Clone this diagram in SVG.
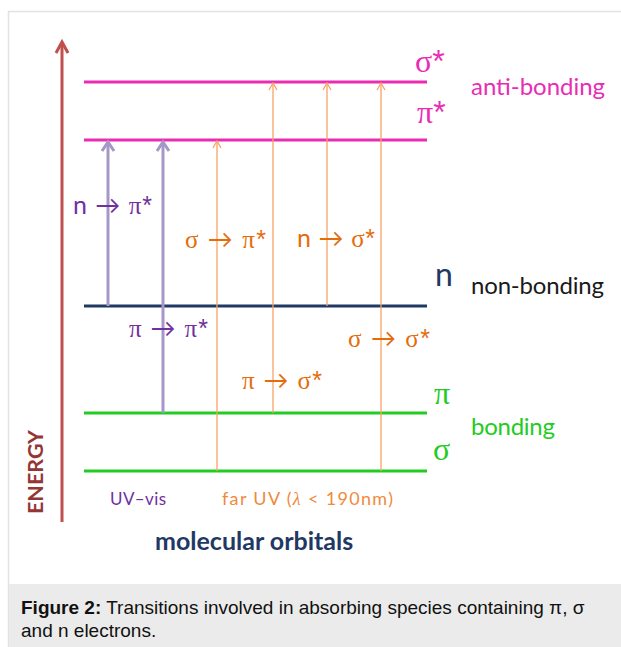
<svg xmlns="http://www.w3.org/2000/svg" width="621" height="647" viewBox="0 0 621 647">
<defs>
<style>
.lvl{stroke-width:3;fill:none}
.pa{stroke:#a597c8;stroke-width:3;fill:none}
.oa{stroke:#f7a366;stroke-width:1.3;fill:none}
.t{font-family:Lato,"Open Sans",sans-serif}
.g{font-family:"Liberation Serif","DejaVu Serif",serif}
.s{font-family:"Liberation Sans",Arial,sans-serif}
.big{font-size:32px}
.lab{font-size:24px}
.tr{font-size:25px}
.pur{fill:#7030a0}
.org{fill:#e46c0a}
</style>
</defs>
<rect x="0" y="0" width="621" height="647" fill="#ffffff"/>
<rect x="8.5" y="11.5" width="640" height="660" fill="none" stroke="#e2e2e2" stroke-width="1.5"/>
<rect x="9" y="584" width="612" height="63" fill="#ebebeb"/>

<g id="energy-axis">
<line x1="62" y1="522" x2="62" y2="44" stroke="#c0504d" stroke-width="3"/>
<polyline points="56,53 62,42 68,53" fill="none" stroke="#c0504d" stroke-width="3" stroke-linejoin="miter"/>
<text class="t" transform="translate(43,472) rotate(-90)" text-anchor="middle" font-size="21.5" font-weight="bold" fill="#943634">ENERGY</text>
</g>

<g id="level-sigma-star">
<line class="lvl" x1="84" y1="82" x2="427" y2="82" stroke="#ea2cb4"/>
<text class="g big" x="415" y="72" fill="#ea2cb4">σ<tspan class="s">*</tspan></text>
</g>
<g id="level-pi-star">
<line class="lvl" x1="84" y1="140" x2="427" y2="140" stroke="#ea2cb4"/>
<text class="g big" x="417" y="123" fill="#ea2cb4">π<tspan class="s">*</tspan></text>
</g>
<text class="t lab" x="471" y="95" fill="#ea2cb4" textLength="134">anti-bonding</text>

<g id="level-n">
<line class="lvl" x1="84" y1="306" x2="427" y2="306" stroke="#1f3864"/>
<text class="t big" x="435" y="286" fill="#1f3864">n</text>
<text class="t lab" x="471" y="294" fill="#1a1a1a" textLength="133">non-bonding</text>
</g>

<g id="level-pi">
<line class="lvl" x1="84" y1="413" x2="427" y2="413" stroke="#22cc22"/>
<text class="g big" x="434" y="404" fill="#22cc22">π</text>
</g>
<g id="level-sigma">
<line class="lvl" x1="84" y1="471" x2="427" y2="471" stroke="#22cc22"/>
<text class="g big" x="433" y="460" fill="#22cc22">σ</text>
</g>
<text class="t lab" x="471" y="435" fill="#22cc22" textLength="84">bonding</text>

<g id="connectors">
<line class="pa" x1="108" y1="306" x2="108" y2="142"/>
<polyline class="pa" points="102,151 108,142 114,151"/>
<line class="pa" x1="163" y1="413" x2="163" y2="142"/>
<polyline class="pa" points="157,151 163,142 169,151"/>
<line class="oa" x1="217" y1="471" x2="217" y2="141"/>
<polyline class="oa" points="213,148 217,141 221,148"/>
<line class="oa" x1="273" y1="413" x2="273" y2="83"/>
<polyline class="oa" points="269,90 273,83 277,90"/>
<line class="oa" x1="327" y1="306" x2="327" y2="83"/>
<polyline class="oa" points="323,90 327,83 331,90"/>
<line class="oa" x1="381" y1="471" x2="381" y2="83"/>
<polyline class="oa" points="377,90 381,83 385,90"/>
</g>

<g id="transition-labels">
<text class="t tr pur" x="73" y="214" textLength="79">n → <tspan class="g">π</tspan><tspan class="s">*</tspan></text>
<text class="t tr pur" x="129" y="337" textLength="79"><tspan class="g">π</tspan> → <tspan class="g">π</tspan><tspan class="s">*</tspan></text>
<text class="t tr org" x="185" y="248" textLength="81"><tspan class="g">σ</tspan> → <tspan class="g">π</tspan><tspan class="s">*</tspan></text>
<text class="t tr org" x="297" y="247" textLength="78">n → <tspan class="g">σ</tspan><tspan class="s">*</tspan></text>
<text class="t tr org" x="348" y="347" textLength="82"><tspan class="g">σ</tspan> → <tspan class="g">σ</tspan><tspan class="s">*</tspan></text>
<text class="t tr org" x="242" y="389" textLength="80"><tspan class="g">π</tspan> → <tspan class="g">σ</tspan><tspan class="s">*</tspan></text>
</g>

<text class="t pur" x="110" y="505" font-size="17" textLength="56">UV–vis</text>
<text class="t" x="222" y="505" font-size="18" fill="#f08a3c" textLength="171">far UV (<tspan class="g" font-style="italic">λ</tspan> &lt; 190nm)</text>
<text class="t" x="155" y="550" font-size="25" font-weight="bold" fill="#1f3864">molecular orbitals</text>

<g id="caption" font-family="'Liberation Sans',Arial,sans-serif" font-size="19" fill="#111111">
<text x="21" y="614"><tspan font-weight="bold">Figure 2:</tspan> Transitions involved in absorbing species containing π, σ</text>
<text x="21" y="637">and n electrons.</text>
</g>
</svg>
